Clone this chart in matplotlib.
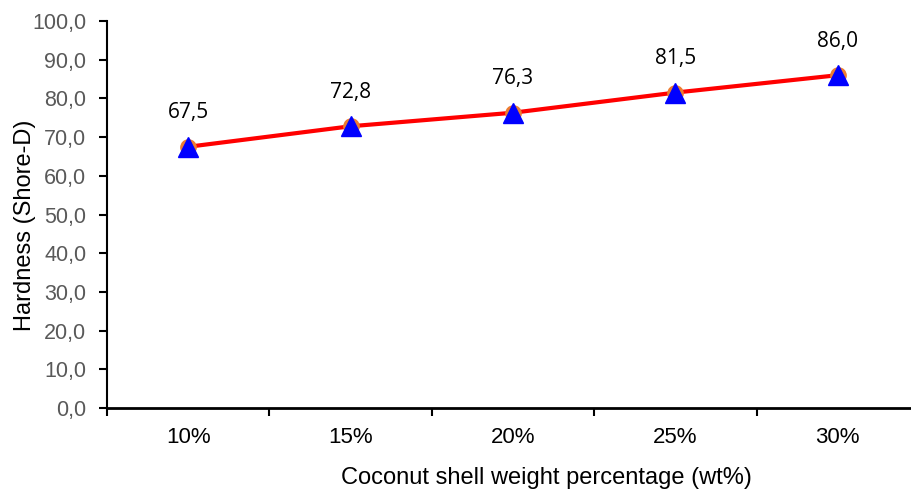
import numpy as np
import matplotlib
matplotlib.use("Agg")
import matplotlib.pyplot as plt

categories = ["10%", "15%", "20%", "25%", "30%"]
hardness = [67.5, 72.8, 76.3, 81.5, 86.0]
y_ticks = [0, 10, 20, 30, 40, 50, 60, 70, 80, 90, 100]

GRAY = "#595959"

fig = plt.figure(figsize=(9.12, 4.93), dpi=100)
ax = fig.add_axes([107 / 912, 1 - 408 / 493, 812 / 912, 387 / 493])

x = np.arange(len(categories))
ax.plot(x, hardness, color="red", lw=3, zorder=2)
ax.plot(x, hardness, ls="none", marker="o", ms=11, mfc="#ED7D31", mec="#ED7D31", zorder=3)
ax.plot(x, hardness, ls="none", marker="^", ms=15, mfc="blue", mec="blue", zorder=4)

for xi, v in zip(x, hardness):
    ax.annotate(f"{v:.1f}".replace(".", ","), (xi, v), xytext=(0, 17),
                textcoords="offset points", ha="center", va="bottom",
                fontsize=15, family="Open Sans", color="black")

ax.set_xlim(-0.5, len(categories) - 0.5)
ax.set_ylim(0, 100)
ax.set_yticks(y_ticks)
ax.set_yticklabels([f"{t:.1f}".replace(".", ",") for t in y_ticks])
ax.set_xticks(np.arange(-0.5, len(categories), 1.0))
ax.set_xticklabels([])
ax.set_xticks(x, minor=True)
ax.set_xticklabels(categories, minor=True)
ax.tick_params(axis="x", which="minor", length=0, pad=14, labelsize=16,
               labelcolor="black")
ax.tick_params(axis="x", which="major", direction="out", length=6, width=1.5)
ax.tick_params(axis="y", direction="out", length=6, width=1.5, labelsize=15.5,
               labelcolor=GRAY, pad=9)
for lab in ax.get_xticklabels(minor=True) + ax.get_yticklabels():
    lab.set_family("Liberation Sans")

for s in ("top", "right"):
    ax.spines[s].set_visible(False)
ax.spines["left"].set_linewidth(1.5)
ax.spines["bottom"].set_linewidth(2)

ax.set_xlabel("Coconut shell weight percentage (wt%)", fontsize=17,
              family="Liberation Sans", va="center")
ax.xaxis.set_label_coords((546 - 107) / 812, (408 - 478) / 387)
ax.set_ylabel("Hardness (Shore-D)", fontsize=17, family="Liberation Sans", va="center")
ax.yaxis.set_label_coords((25 - 107) / 812, (408 - 225) / 387)

fig.savefig("out.png", dpi=100)
